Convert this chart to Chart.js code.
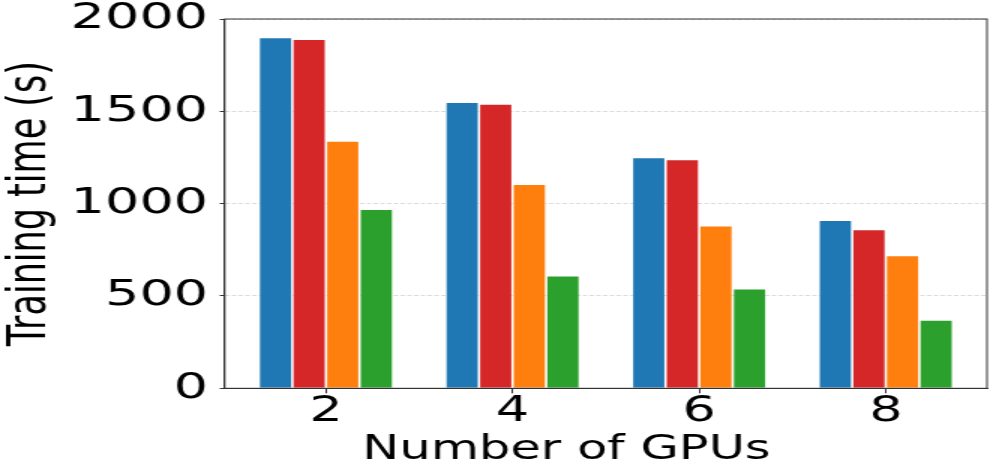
<!DOCTYPE html>
<html>
<head>
<meta charset="utf-8">
<script src="https://cdn.jsdelivr.net/npm/chart.js@4/dist/chart.umd.min.js"></script>
<style>
    html, body { margin: 0; padding: 0; background: #fff; overflow: hidden; }
    /* the reference figure is stretched sideways, so draw narrow and scale up */
    #wrap { width: 664px; height: 476px; transform: scaleX(1.5); transform-origin: 0 0; }
</style>
</head>
<body>
<div id="wrap"><canvas id="trainingChart" width="664" height="476"></canvas></div>
<script>
// --- Data ---
const gpuCounts = [2, 4, 6, 8];
const blueTimes = [1900, 1550, 1250, 910];
const redTimes = [1890, 1540, 1240, 860];
const orangeTimes = [1340, 1105, 880, 720];
const greenTimes = [970, 610, 540, 370];
const yTicks = [0, 500, 1000, 1500, 2000];

const colors = { blue: '#1f77b4', red: '#d62728', orange: '#ff7f0e', green: '#2ca02c' };

const toPoints = (values) => values.map((v, i) => ({ x: gpuCounts[i], y: v }));

function makeSet(label, values, color) {
    return {
        label,
        data: toPoints(values),
        backgroundColor: color,
        borderColor: 'rgba(255,255,255,0.25)',
        borderWidth: 0.8,
        categoryPercentage: 0.72,
        barPercentage: 1.0
    };
}

// frame around the plot area (matplotlib spines)
const framePlugin = {
    id: 'frame',
    afterDraw(chart) {
        const { ctx, chartArea: a } = chart;
        ctx.save();
        ctx.strokeStyle = '#333';
        ctx.lineWidth = 1;
        ctx.strokeRect(a.left, a.top, a.right - a.left, a.bottom - a.top);
        ctx.restore();
    }
};

const ctx = document.getElementById('trainingChart').getContext('2d');
new Chart(ctx, {
    type: 'bar',
    data: {
        datasets: [
            makeSet('Series 1', blueTimes, colors.blue),
            makeSet('Series 2', redTimes, colors.red),
            makeSet('Series 3', orangeTimes, colors.orange),
            makeSet('Series 4', greenTimes, colors.green)
        ]
    },
    options: {
        responsive: false,
        animation: false,
        layout: { padding: { top: 19, right: 6, left: 0, bottom: 0 } },
        plugins: { legend: { display: false }, tooltip: { enabled: false } },
        scales: {
            x: {
                type: 'linear',
                min: 0.915,
                max: 9.085,
                offset: false,
                afterBuildTicks: (scale) => { scale.ticks = gpuCounts.map(v => ({ value: v })); },
                afterFit: (scale) => { scale.height = 87.7; scale.paddingLeft = 0; scale.paddingRight = 0; },
                grid: { offset: false, drawOnChartArea: false, drawTicks: true, tickLength: 5, color: '#333' },
                border: { color: '#333', width: 1 },
                ticks: {
                    color: '#000',
                    padding: -2,
                    maxRotation: 0,
                    autoSkip: false,
                    font: { family: 'DejaVu Sans', size: 35 },
                    callback: (v) => String(v)
                },
                title: {
                    display: true,
                    // trailing spaces shift the label left, as in the reference
                    text: 'Number of GPUs     ',
                    color: '#000',
                    padding: { top: 0, bottom: 6 },
                    font: { family: 'DejaVu Sans', size: 33 }
                }
            },
            y: {
                min: 0,
                max: 2000,
                z: 1,
                afterBuildTicks: (scale) => { scale.ticks = yTicks.map(v => ({ value: v })); },
                afterFit: (scale) => { scale.width = 149.8; scale.paddingTop = 0; scale.paddingBottom = 0; },
                grid: {
                    color: 'rgba(190,190,190,0.55)',
                    lineWidth: 1,
                    tickColor: '#333',
                    tickBorderDash: [],
                    tickLength: 3.3
                },
                border: { color: '#333', width: 1, dash: [3, 1.5] },
                ticks: {
                    color: '#000',
                    padding: 7.8,
                    font: { family: 'DejaVu Sans', size: 36 },
                    callback: (v) => String(v)
                },
                title: {
                    display: true,
                    text: 'Training time (s)',
                    color: '#000',
                    padding: { top: 0, bottom: 0 },
                    font: { family: 'DejaVu Sans', size: 35 }
                }
            }
        }
    },
    plugins: [framePlugin]
});
</script>
</body>
</html>
